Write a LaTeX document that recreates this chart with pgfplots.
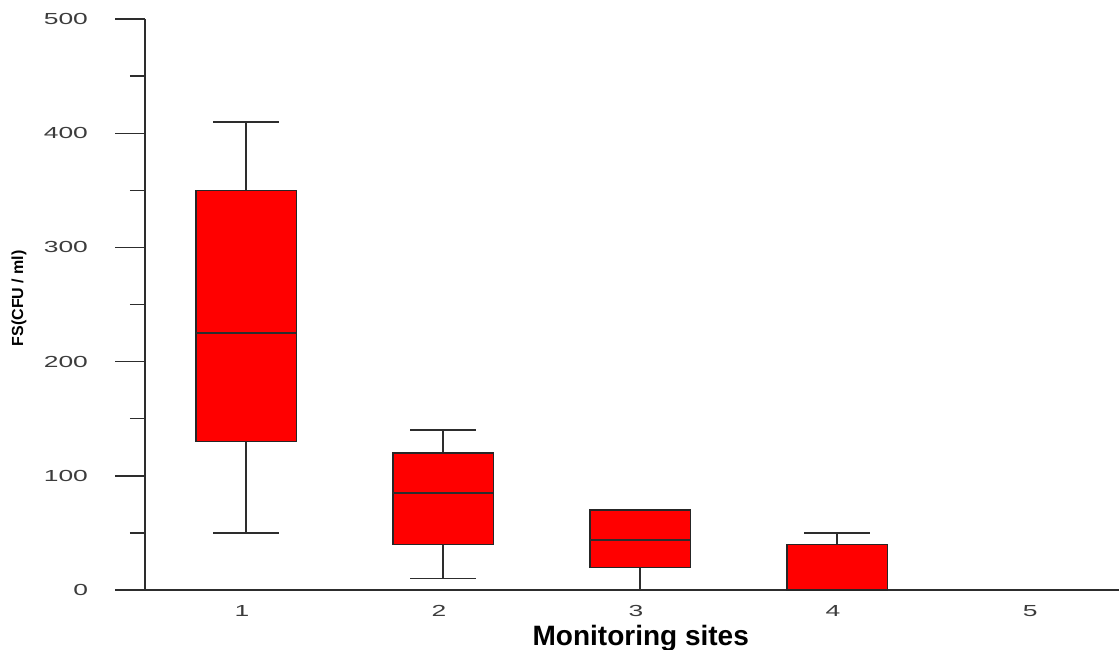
\documentclass[border=0pt]{standalone}
\usepackage{graphicx}
\usepackage{fontspec}
\setmainfont{Liberation Sans}
\usepackage{pgfplots}
\pgfplotsset{compat=1.18}
\usetikzlibrary{calc}
\newcommand\wide[1]{\scalebox{1.65}[1]{#1}}
\definecolor{axgray}{RGB}{45,45,45}
\definecolor{lblgray}{RGB}{60,60,60}
\begin{document}
\begin{tikzpicture}
\begin{axis}[
  scale only axis, width=487pt, height=285.5pt,
  xmin=0.487, xmax=5.431, ymin=0, ymax=500,
  clip=false,
  axis lines*=left,
  axis line style={line width=0.8pt, color=axgray},
  /pgf/number format/assume math mode=true,
  ytick={0,100,200,300,400,500},
  yticklabels={\wide{0},\wide{100},\wide{200},\wide{300},\wide{400},\wide{500}},
  minor ytick={50,150,250,350,450},
  tick align=outside,
  major tick length=15pt, minor tick length=7.5pt,
  every tick/.style={axgray, line width=0.7pt},
  xtick={1,2,3,4,5},
  xticklabels={\wide{1},\wide{2},\wide{3},\wide{4},\wide{5}},
  xtick style={draw=none},
  tick label style={font=\fontsize{8}{9.5}\selectfont, text=lblgray},
  yticklabel style={anchor=east, xshift=-10pt},
  xticklabel style={anchor=north, yshift=11pt, xshift=-2pt},
  xlabel={Monitoring sites},
  xlabel style={font=\fontsize{14}{16}\selectfont\bfseries, anchor=base, at={(axis description cs:0.509,0)}, yshift=-27.5pt},
  ylabel={FS(CFU / ml)},
  ylabel style={font=\fontsize{8}{9.5}\selectfont\bfseries, anchor=center, at={(axis description cs:-0.1294,0.511)}},
  whisk/.style={draw=axgray, line width=0.8pt, forget plot},
  bx/.style={fill=red, draw=black!85, line width=0.7pt, forget plot},
]
% site 1: min 50, q1 130, median 225, q3 350, max 410
\addplot[whisk] coordinates {(1,50) (1,410)};
\addplot[whisk] coordinates {(0.8325,410) (1.1675,410)};
\addplot[whisk] coordinates {(0.8325,50) (1.1675,50)};
\addplot[bx] coordinates {(0.745,130) (1.255,130) (1.255,350) (0.745,350)} -- cycle;
\addplot[whisk] coordinates {(0.745,225) (1.255,225)};
% site 2: min 10, q1 40, median 85, q3 120, max 140
\addplot[whisk] coordinates {(2,10) (2,140)};
\addplot[whisk] coordinates {(1.8325,140) (2.1675,140)};
\addplot[whisk] coordinates {(1.8325,10) (2.1675,10)};
\addplot[bx] coordinates {(1.745,40) (2.255,40) (2.255,120) (1.745,120)} -- cycle;
\addplot[whisk] coordinates {(1.745,85) (2.255,85)};
% site 3: min 0, q1 19.5, median 44, q3 70, max 70
\addplot[whisk] coordinates {(3,0) (3,70)};
\addplot[bx] coordinates {(2.745,19.5) (3.255,19.5) (3.255,70) (2.745,70)} -- cycle;
\addplot[whisk] coordinates {(2.745,44) (3.255,44)};
% site 4: min 0, q1 0, median 0, q3 40, max 50
\addplot[whisk] coordinates {(4,0) (4,50)};
\addplot[whisk] coordinates {(3.8325,50) (4.1675,50)};
\addplot[bx] coordinates {(3.745,0) (4.255,0) (4.255,40) (3.745,40)} -- cycle;
% site 5: all values 0
\addplot[whisk] coordinates {(4.745,0) (5.255,0)};
\end{axis}
\pgfresetboundingbox
\path ($(current axis.south west)+(-72.5pt,-29.5pt)$) rectangle ($(current axis.north east)+(0pt,9.5pt)$);
\end{tikzpicture}
\end{document}
